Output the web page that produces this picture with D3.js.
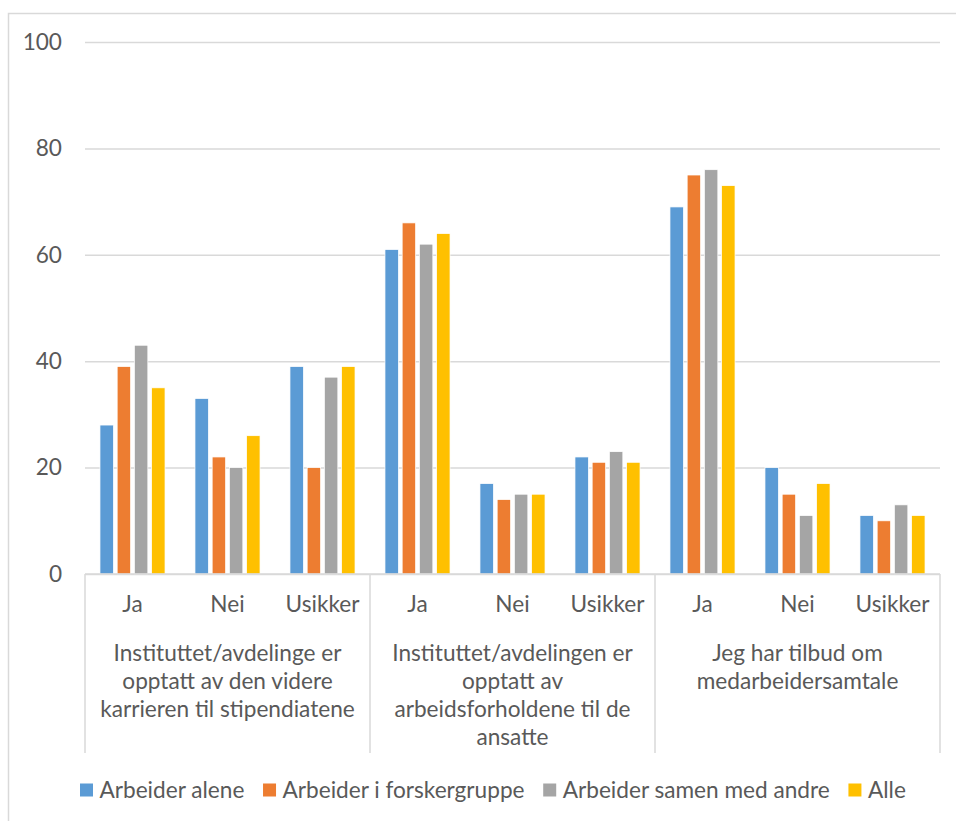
<!DOCTYPE html>
<html>
<head>
<meta charset="utf-8">
<script src="https://cdn.jsdelivr.net/npm/d3@7"></script>
<style>
  html, body { margin: 0; padding: 0; background: #fff; }
  svg { display: block; }
</style>
</head>
<body>
<svg id="chart" width="956" height="821"></svg>
<script>
// ---- Data ----
const groupLabels = [
  "Instituttet/avdelinge er\nopptatt av den videre\nkarrieren til stipendiatene",
  "Instituttet/avdelingen er\nopptatt av\narbeidsforholdene til de\nansatte",
  "Jeg har tilbud om\nmedarbeidersamtale"
];
const subCategories = ["Ja", "Nei", "Usikker"];
const seriesNames = ["Arbeider alene", "Arbeider i forskergruppe", "Arbeider samen med andre", "Alle"];
const seriesColors = ["#5b9bd5", "#ed7d31", "#a5a5a5", "#ffc000"];
const valuesAlene    = [28, 33, 39, 61, 17, 22, 69, 20, 11];
const valuesForsker  = [39, 22, 20, 66, 14, 21, 75, 15, 10];
const valuesSamen    = [43, 20, 37, 62, 15, 23, 76, 11, 13];
const valuesAlle     = [35, 26, 39, 64, 15, 21, 73, 17, 11];
const yTicks = [0, 20, 40, 60, 80, 100];

(function () {
// ---- Build table ----
const seriesValues = [valuesAlene, valuesForsker, valuesSamen, valuesAlle];
const slots = [];
groupLabels.forEach((g, gi) => subCategories.forEach((s, si) => slots.push({ key: gi + "-" + si, group: gi, sub: s })));
const rows = slots.map((slot, i) => ({
  ...slot,
  values: seriesNames.map((name, k) => ({ name, color: seriesColors[k], value: seriesValues[k][i] }))
}));

// ---- Layout ----
const svg = d3.select("#chart");
const mLeft = 85, mRight = 940, mTop = 42, mBottom = 574;
const textColor = "#595959";
const gridColor = "#d9d9d9";
const family = "Lato, 'Liberation Sans', sans-serif";

const probe = svg.append("text").attr("font-family", family).attr("font-size", 100).text("Instituttet/avdelinge er");
const probeW = probe.node().getComputedTextLength();
probe.remove();
const fs = 100 * 228 / probeW;

svg.append("rect").attr("x", 8.5).attr("y", 13.5).attr("width", 1000).attr("height", 1000)
  .attr("fill", "none").attr("stroke", gridColor).attr("stroke-width", 1.5);

const y = d3.scaleLinear().domain([0, 100]).range([mBottom, mTop]);
const x0 = d3.scaleBand().domain(slots.map(d => d.key)).range([mLeft, mRight]).padding(0);
const groupW = x0.bandwidth() * 0.685;
const x1 = d3.scaleBand().domain(seriesNames)
  .range([(x0.bandwidth() - groupW) / 2, (x0.bandwidth() + groupW) / 2]).paddingInner(0.215).paddingOuter(0);

const yAxis = d3.axisLeft(y).tickValues(yTicks).tickSize(-(mRight - mLeft)).tickPadding(23).tickFormat(d3.format("d"));
const yg = svg.append("g").attr("transform", `translate(${mLeft},0)`).call(yAxis);
yg.select(".domain").remove();
yg.selectAll(".tick line").attr("stroke", gridColor).attr("stroke-width", 1.5);
yg.selectAll(".tick text").attr("fill", textColor).attr("font-family", family).attr("font-size", fs);

const gRows = svg.append("g").selectAll("g").data(rows).join("g")
  .attr("transform", d => `translate(${x0(d.key)},0)`);
gRows.selectAll("rect").data(d => d.values).join("rect")
  .attr("x", d => x1(d.name))
  .attr("width", x1.bandwidth())
  .attr("y", d => y(d.value))
  .attr("height", d => y(0) - y(d.value))
  .attr("fill", d => d.color)
  .attr("stroke", "#ffffff").attr("stroke-width", 0.75);

svg.append("line").attr("x1", mLeft).attr("x2", mRight).attr("y1", mBottom).attr("y2", mBottom)
  .attr("stroke", gridColor).attr("stroke-width", 1.5);

const groupScale = d3.scaleBand().domain(groupLabels.map((g, i) => i)).range([mLeft, mRight]);
const sepX = groupLabels.map((g, i) => groupScale(i)).concat([mRight]);
svg.append("g").selectAll("line").data(sepX).join("line")
  .attr("x1", d => d).attr("x2", d => d).attr("y1", mBottom).attr("y2", 753)
  .attr("stroke", gridColor).attr("stroke-width", 1.5);

svg.append("g").selectAll("text").data(slots).join("text")
  .attr("x", d => x0(d.key) + x0.bandwidth() / 2)
  .attr("y", 604).attr("dy", "0.35em")
  .attr("text-anchor", "middle").attr("fill", textColor)
  .attr("font-family", family).attr("font-size", fs)
  .text(d => d.sub);

const gl = svg.append("g").selectAll("text").data(groupLabels).join("text")
  .attr("text-anchor", "middle").attr("fill", textColor)
  .attr("font-family", family).attr("font-size", fs);
gl.each(function(d, i) {
  const t = d3.select(this);
  d.split("\n").forEach((line, li) => {
    t.append("tspan").attr("x", groupScale(i) + groupScale.bandwidth() / 2)
      .attr("y", 653 + li * 28).attr("dy", "0.35em").text(line);
  });
});

const legend = svg.append("g");
let lx = 80;
seriesNames.forEach((name, i) => {
  const item = legend.append("g").attr("transform", `translate(${lx},790)`);
  item.append("rect").attr("x", 0).attr("y", -6.5).attr("width", 13).attr("height", 13).attr("fill", seriesColors[i]);
  const t = item.append("text").attr("x", 19.5).attr("y", 0).attr("dy", "0.35em")
    .attr("fill", textColor).attr("font-family", family).attr("font-size", fs).text(name);
  lx += 19.5 + t.node().getComputedTextLength() + 18.7;
});
})();
</script>
</body>
</html>
